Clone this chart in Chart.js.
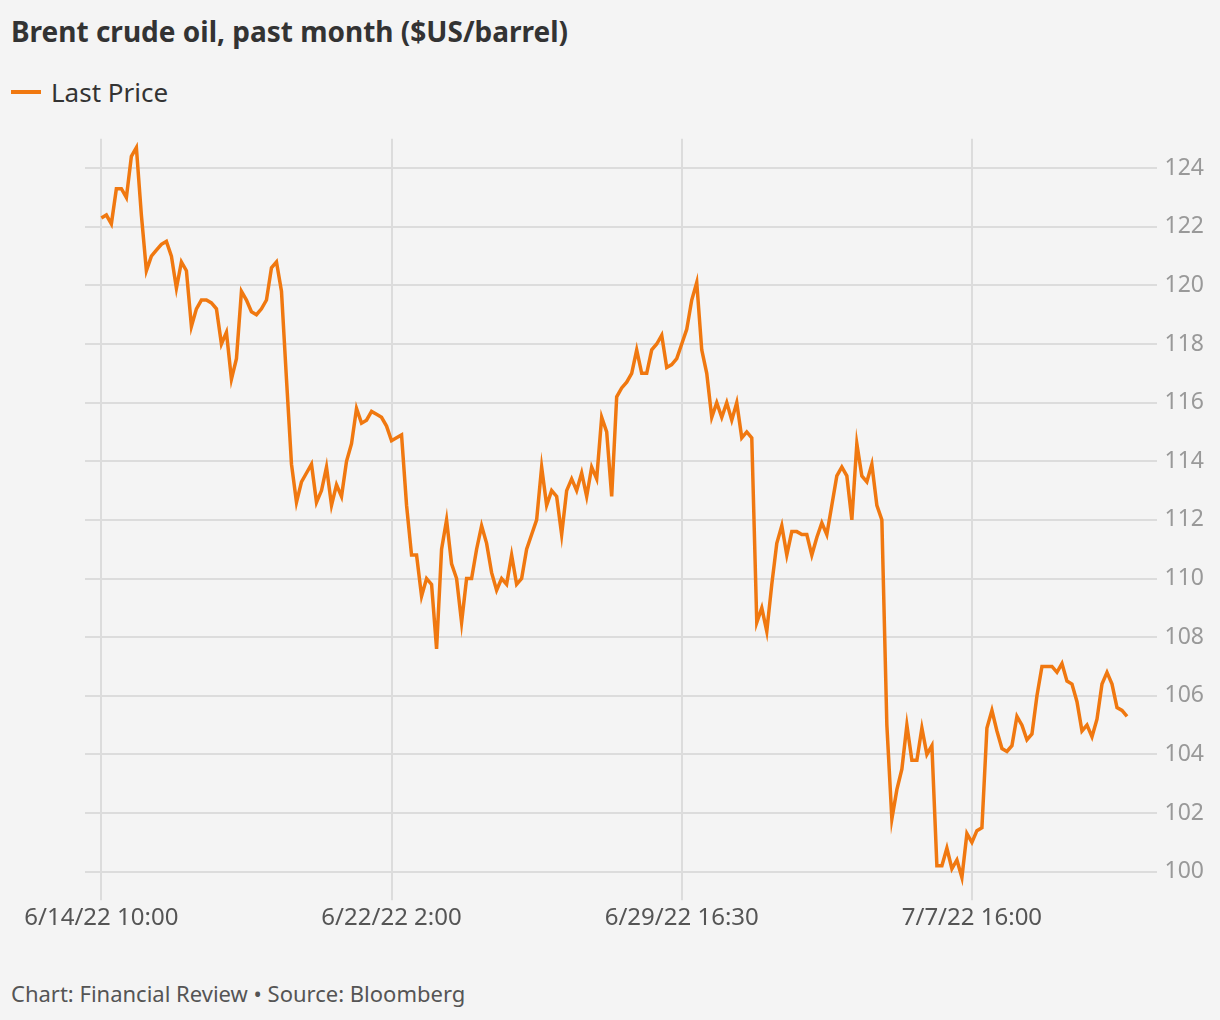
<!DOCTYPE html>
<html><head><meta charset="utf-8">
<script src="https://cdn.jsdelivr.net/npm/chart.js@4"></script>
<style>
html,body{margin:0;padding:0;background:#f4f4f4;width:1220px;height:1020px;overflow:hidden;font-family:"Noto Sans",sans-serif;}
#title{position:absolute;left:11px;top:12px;font-size:28px;font-weight:bold;color:#333;}
#legend{position:absolute;left:11px;top:74px;font-size:26px;color:#333;display:flex;align-items:center;}
#legend span.sw{display:inline-block;width:30px;height:4px;background:#f07810;margin-right:10px;}
#foot{position:absolute;left:11px;top:978px;font-size:22px;color:#555;}
#wrap{position:absolute;left:0;top:117px;width:1220px;height:820px;}
</style></head><body>
<div id="title">Brent crude oil, past month ($US/barrel)</div>
<div id="legend"><span class="sw"></span>Last Price</div>
<div id="wrap"><canvas id="c"></canvas></div>
<div id="foot">Chart: Financial Review • Source: Bloomberg</div>
<script>
const seriesName = "Last Price";
const tickLabels = ["6/14/22 10:00","6/22/22 2:00","6/29/22 16:30","7/7/22 16:00"];
const tickIndices = [0,58,116,174];
const prices = [
122.3,122.4,122.1,123.3,123.3,123.0,124.4,124.7,122.4,120.5,
121.0,121.2,121.4,121.5,121.0,119.9,120.8,120.5,118.6,119.2,
119.5,119.5,119.4,119.2,118.0,118.4,116.8,117.5,119.8,119.5,
119.1,119.0,119.2,119.5,120.6,120.8,119.8,116.8,113.9,112.6,
113.3,113.6,113.9,112.6,113.0,113.8,112.5,113.2,112.8,114.0,
114.6,115.8,115.3,115.4,115.7,115.6,115.5,115.2,114.7,114.8,
114.9,112.5,110.8,110.8,109.4,110.0,109.8,107.6,111.0,112.0,
110.5,110.0,108.5,110.0,110.0,111.0,111.8,111.2,110.2,109.6,
110.0,109.8,110.8,109.8,110.0,111.0,111.5,112.0,113.8,112.5,
113.0,112.8,111.5,113.0,113.4,113.0,113.6,112.8,113.8,113.4,
115.5,115.0,112.8,116.2,116.5,116.7,117.0,117.8,117.0,117.0,
117.8,118.0,118.3,117.2,117.3,117.5,118.0,118.5,119.5,120.1,
117.8,117.0,115.5,116.0,115.5,116.0,115.4,116.0,114.8,115.0,
114.8,108.5,109.0,108.2,109.8,111.2,111.8,110.8,111.6,111.6,
111.5,111.5,110.8,111.4,111.9,111.5,112.5,113.5,113.8,113.5,
112.0,114.6,113.5,113.3,113.9,112.5,112.0,105.0,101.8,102.8,
103.5,105.0,103.8,103.8,104.9,104.0,104.3,100.2,100.2,100.8,
100.1,100.4,99.8,101.3,101.0,101.4,101.5,104.9,105.5,104.8,
104.2,104.1,104.3,105.3,105.0,104.5,104.7,106.0,107.0,107.0,
107.0,106.8,107.1,106.5,106.4,105.8,104.8,105.0,104.6,105.2,
106.4,106.8,106.4,105.6,105.5,105.3];
const yTicks = [100,102,104,106,108,110,112,114,116,118,120,122,124];

const pts = prices.map((v,i)=>({x:i,y:v}));
new Chart(document.getElementById('c'),{
  type:'line',
  data:{datasets:[{label:seriesName,data:pts,borderColor:'#f07810',borderWidth:3.5,pointRadius:0,tension:0,fill:false}]},
  options:{
    responsive:true,maintainAspectRatio:false,animation:false,
    layout:{padding:{left:85,right:8,top:0,bottom:0}},
    plugins:{legend:{display:false},tooltip:{enabled:false}},
    scales:{
      x:{type:'linear',min:-3.27,max:210.9,
        afterBuildTicks:(s)=>{s.ticks=tickIndices.map(v=>({value:v}));},
        ticks:{autoSkip:false,maxRotation:0,color:'#555',font:{family:'Noto Sans',size:24},padding:4,
          callback:(v)=>{const k=tickIndices.indexOf(v);return k>=0?tickLabels[k]:null;}},
        grid:{color:'#dcdcdc',lineWidth:2,drawTicks:true,tickLength:8},border:{display:false}},
      y:{position:'right',min:99.3,max:125,
        afterBuildTicks:(s)=>{s.ticks=yTicks.map(v=>({value:v}));},
        ticks:{color:'#999',font:{family:'Noto Sans',size:23},padding:8},
        grid:{color:'#dcdcdc',lineWidth:2,drawTicks:false},border:{display:false}}
    }
  }
});
</script>
</body></html>
